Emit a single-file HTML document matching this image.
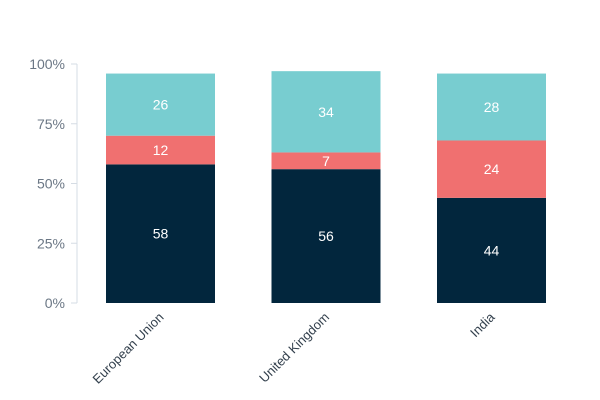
<!DOCTYPE html>
<html><head><style>body{margin:0;background:#fff}svg{display:block;font-family:"Liberation Sans",sans-serif}</style></head>
<body>
<svg id="c" width="600" height="400"></svg>
<script>
const categories=["European Union","United Kingdom","India"];
const seriesBottom=[58,56,44];
const seriesMiddle=[12,7,24];
const seriesTop=[26,34,28];
const tickValues=[0,25,50,75,100];
const tickLabels=["0%","25%","50%","75%","100%"];
const colors=["#02263d","#f07070","#78cdd0"];
const svg=document.getElementById('c');
const NS="http://www.w3.org/2000/svg";
const y0=303,y1=64;
const y=v=>y0-(y0-y1)*v/100;
const bw=109,x=i=>106+i*165.5;
function mk(t,a){const e=document.createElementNS(NS,t);for(const k in a)e.setAttribute(k,a[k]);svg.appendChild(e);return e;}
const ax=mk('line',{x1:77,x2:77,y1:y(100),y2:y(0),stroke:'#d5dce4','stroke-width':1});


tickValues.forEach((v,i)=>{
 const t=mk('line',{x1:71,x2:77,y1:y(v),y2:y(v),stroke:'#d5dce4'});
 
 
 const l=mk('text',{x:65,y:y(v)+5,'text-anchor':'end','font-size':14,fill:'#6b7785'});
 l.textContent=tickLabels[i];
 
 
});
categories.forEach((c,i)=>{
 let base=0;
 [seriesBottom,seriesMiddle,seriesTop].forEach((s,k)=>{
  const v=s[i];
  const r=mk('rect',{x:x(i),y:y(base+v),width:bw,height:y(base)-y(base+v),fill:colors[k]});
  
  
  const t=mk('text',{x:x(i)+bw/2,y:(y(base)+y(base+v))/2+5,'text-anchor':'middle','font-size':14,fill:'#fff'});
  t.textContent=v;
  
  
  base+=v;
 });
 const cx=x(i)+bw/2+4,cy=318;
 const l=mk('text',{x:cx,y:cy,'text-anchor':'end','font-size':13,fill:'#33404d',transform:`rotate(-45 ${cx} ${cy})`});
 l.textContent=c;
 
 
});
</script>
</body></html>
